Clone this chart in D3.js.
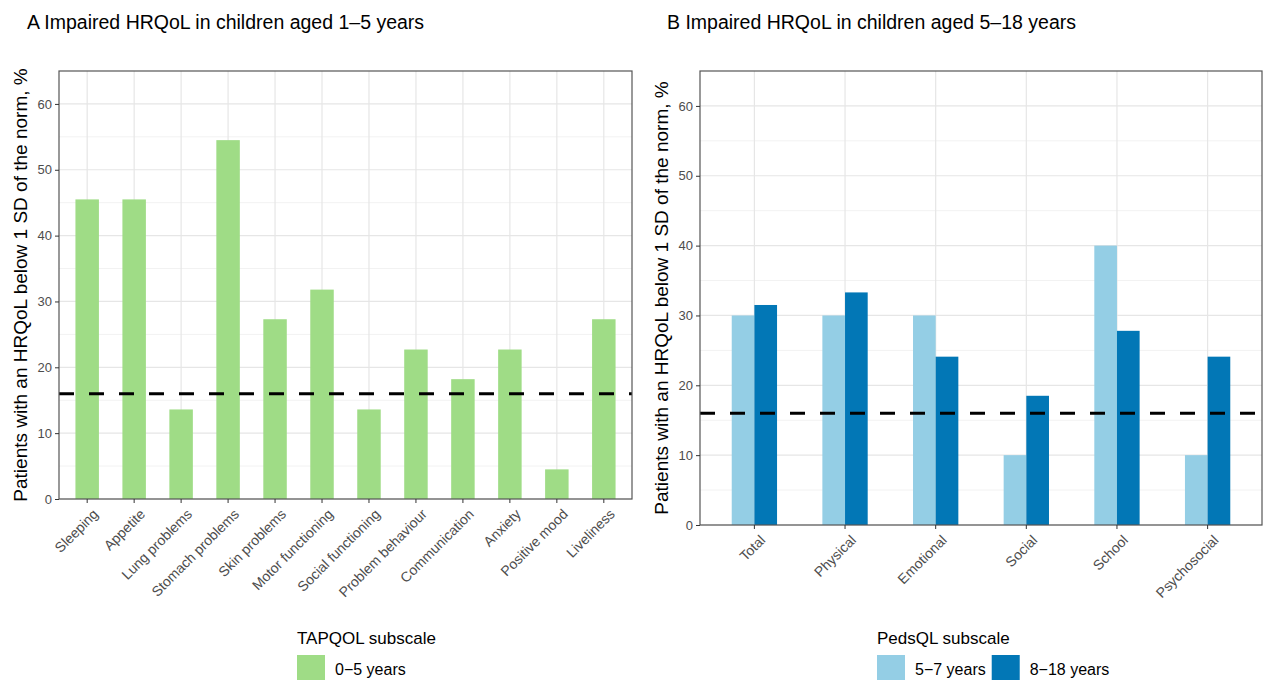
<!DOCTYPE html>
<html>
<head>
<meta charset="utf-8">
<script src="https://cdn.jsdelivr.net/npm/d3@7"></script>
<style>
body { margin: 0; background: #fff; }
svg { font-family: "Liberation Sans", Arial, sans-serif; }
</style>
</head>
<body>
<svg id="chart" width="1266" height="680"></svg>
<script>
// panel A: TAPQOL, children 1-5
var tapqolCats = ["Sleeping", "Appetite", "Lung problems", "Stomach problems", "Skin problems",
  "Motor functioning", "Social functioning", "Problem behaviour", "Communication",
  "Anxiety", "Positive mood", "Liveliness"];
var tapqol05 = [45.5, 45.5, 13.6, 54.5, 27.3, 31.8, 13.6, 22.7, 18.2, 22.7, 4.5, 27.3];

// panel B: PedsQL, children 5-18
var pedsCats = ["Total", "Physical", "Emotional", "Social", "School", "Psychosocial"];
var peds57 = [30, 30, 30, 10, 40, 10];
var peds818 = [31.5, 33.3, 24.1, 18.5, 27.8, 24.1];

var yTicks = [0, 10, 20, 30, 40, 50, 60];
var normLine = 16;

var green = "#9fdc86", lightBlue = "#94cee5", darkBlue = "#0277b6";

var svg = d3.select("#chart");

function drawPanel(opt)
{
	var g = svg.append("g");
	// ggplot style discrete axis: centres 1 unit apart, 0.6 unit margin at both ends
	var x = d3.scalePoint()
		.domain(opt.cats)
		.range([opt.left, opt.right])
		.padding(0.6);
	var unit = x.step();
	var cx = function(c) { return x(c); };

	var y = d3.scaleLinear().domain([0, 65]).range([opt.bottom, opt.top]);

	// minor grid
	g.selectAll(".minor").data(d3.range(5, 65, 10)).enter().append("line")
		.attr("x1", opt.left).attr("x2", opt.right)
		.attr("y1", function(d){ return y(d); }).attr("y2", function(d){ return y(d); })
		.style("stroke", "#f2f2f2").style("stroke-width", 1);
	// major grid
	g.selectAll(".major").data(yTicks).enter().append("line")
		.attr("x1", opt.left).attr("x2", opt.right)
		.attr("y1", function(d){ return y(d); }).attr("y2", function(d){ return y(d); })
		.style("stroke", "#e6e6e6").style("stroke-width", 1.2);
	g.selectAll(".vgrid").data(opt.cats).enter().append("line")
		.attr("x1", cx).attr("x2", cx)
		.attr("y1", opt.top).attr("y2", opt.bottom)
		.style("stroke", "#e6e6e6").style("stroke-width", 1.2);

	// bars
	opt.series.forEach(function(s, si) {
		var n = opt.series.length;
		var bw = 0.5 * unit / n;
		g.selectAll(".bar" + si).data(s.values).enter().append("rect")
			.attr("x", function(d, i){ return cx(opt.cats[i]) - 0.25 * unit + si * bw; })
			.attr("width", bw)
			.attr("y", function(d){ return y(d); })
			.attr("height", function(d){ return y(0) - y(d); })
			.style("fill", s.color);
	});

	// dashed norm line
	g.append("line")
		.attr("x1", opt.left).attr("x2", opt.right)
		.attr("y1", y(normLine)).attr("y2", y(normLine))
		.style("stroke", "#000").style("stroke-width", 3)
		.style("stroke-dasharray", "15,15");

	// border
	g.append("rect")
		.attr("x", opt.left).attr("y", opt.top)
		.attr("width", opt.right - opt.left).attr("height", opt.bottom - opt.top)
		.style("fill", "none").style("stroke", "#555").style("stroke-width", 1.2);

	// y axis
	var yAxis = d3.axisLeft(y).tickValues(yTicks).tickSize(4).tickPadding(3);
	var ya = g.append("g").attr("transform", "translate(" + opt.left + ",0)").call(yAxis);
	ya.select(".domain").remove();
	ya.selectAll("line").style("stroke", "#333");
	ya.selectAll("text").style("fill", "#4d4d4d").style("font-size", "13px");

	// x axis ticks + labels
	g.selectAll(".xt").data(opt.cats).enter().append("line")
		.attr("x1", cx).attr("x2", cx)
		.attr("y1", opt.bottom).attr("y2", opt.bottom + 4)
		.style("stroke", "#333");
	g.selectAll(".xl").data(opt.cats).enter().append("text")
		.attr("text-anchor", "end")
		.attr("transform", function(d){ return "translate(" + (cx(d) + 5) + "," + (opt.bottom + 9) + ")rotate(-45)"; })
		.attr("dy", "0.7em")
		.style("fill", "#4d4d4d").style("font-size", "14px")
		.text(function(d){ return d; });

	// y title
	g.append("text")
		.attr("text-anchor", "middle")
		.attr("transform", "translate(" + opt.yTitleX + "," + ((opt.top + opt.bottom) / 2) + ")rotate(-90)")
		.style("font-size", "19px").style("fill", "#000")
		.text("Patients with an HRQoL below 1 SD of the norm, %");

	// panel title
	g.append("text")
		.attr("x", opt.titleX).attr("y", 29)
		.style("font-size", "19.5px").style("fill", "#000")
		.text(opt.title);

	// legend
	g.append("text")
		.attr("x", opt.legX).attr("y", 644)
		.style("font-size", "17px").style("fill", "#000")
		.text(opt.legTitle);
	var lx = opt.legX;
	opt.series.forEach(function(s) {
		g.append("rect").attr("x", lx).attr("y", 655).attr("width", 28).attr("height", 28)
			.style("fill", s.color);
		var t = g.append("text").attr("x", lx + 38).attr("y", 675)
			.style("font-size", "16px").style("fill", "#000")
			.text(s.label);
		lx += 38 + t.node().getComputedTextLength() + 6;
	});
}

drawPanel({
	cats: tapqolCats,
	series: [{ values: tapqol05, color: green, label: "0\u22125 years" }],
	left: 59, right: 632, top: 71, bottom: 499,
	yTitleX: 27, titleX: 27,
	title: "A Impaired HRQoL in children aged 1\u20135 years",
	legTitle: "TAPQOL subscale", legX: 297
});

drawPanel({
	cats: pedsCats,
	series: [{ values: peds57, color: lightBlue, label: "5\u22127 years" },
	         { values: peds818, color: darkBlue, label: "8\u221218 years" }],
	left: 700, right: 1262, top: 71, bottom: 525,
	yTitleX: 668, titleX: 667,
	title: "B Impaired HRQoL in children aged 5\u201318 years",
	legTitle: "PedsQL subscale", legX: 877
});
</script>
</body>
</html>
